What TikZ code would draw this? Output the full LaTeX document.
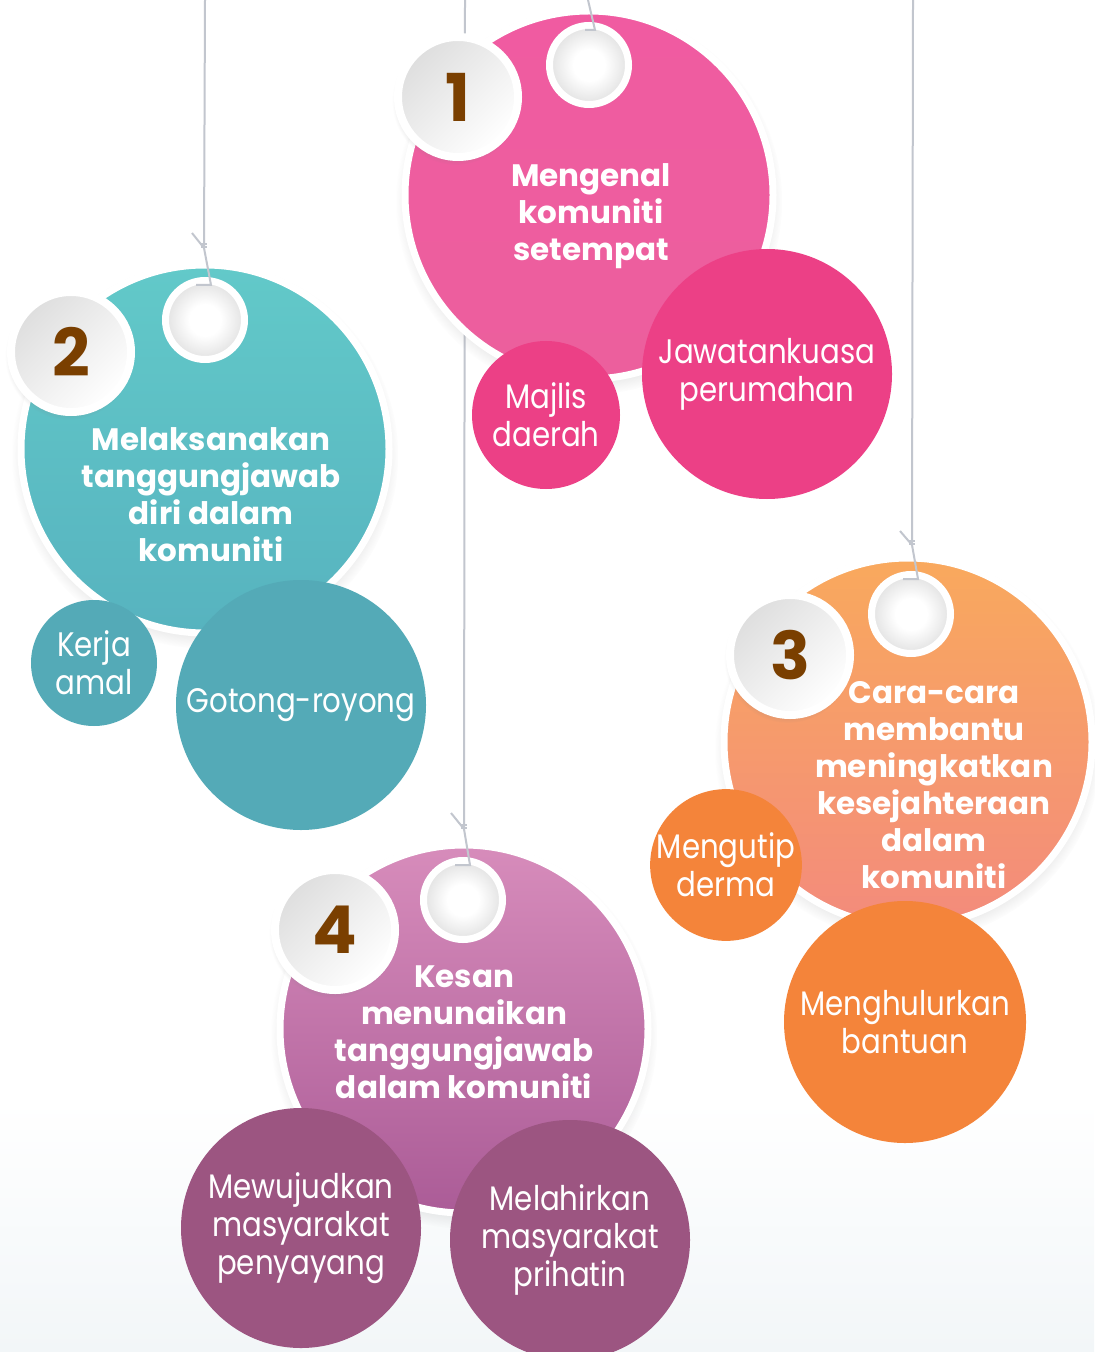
\documentclass[tikz,border=0pt]{standalone}
\usepackage{fontspec}
\setmainfont{Poppins}
\newfontfamily\sublight{Poppins}[FakeStretch=0.86]
\usetikzlibrary{positioning, calc, shadows, fadings}
\definecolor{pinktop}{HTML}{F05BA1}
\definecolor{pinkbot}{HTML}{EC5F9D}
\definecolor{pinksub}{HTML}{EC4086}
\definecolor{tealtop}{HTML}{62C9C9}
\definecolor{tealbot}{HTML}{57B3BF}
\definecolor{tealsub}{HTML}{54AAB7}
\definecolor{orangetop}{HTML}{F9A95D}
\definecolor{orangebot}{HTML}{F38B7C}
\definecolor{orangesub}{HTML}{F4843A}
\definecolor{purpletop}{HTML}{D78CBB}
\definecolor{purplebot}{HTML}{AB5C97}
\definecolor{purplesub}{HTML}{9C5581}
\definecolor{digitbrown}{HTML}{7A3F00}
\definecolor{stringgray}{HTML}{C2C6CE}
\definecolor{bgfade}{HTML}{F2F6F8}
\pgfdeclareradialshading{holeshade}{\pgfpoint{0bp}{0bp}}{color(0bp)=(white); color(10bp)=(white); color(44bp)=(black!26); color(50bp)=(black!28)}

\begin{document}
\begin{tikzpicture}[x=0.5pt, y=-0.5pt,
    bigball/.style 2 args={circle, draw=white, line width=3.5pt, inner sep=0pt,
        minimum size=184pt, top color=#1, bottom color=#2,
        circular drop shadow={shadow xshift=0pt, shadow yshift=-3pt, shadow scale=1.05, opacity=0.3}},
    subball/.style={circle, fill=#1, inner sep=0pt, text=white, align=center,
        font=\sublight\fontsize{17}{19}\selectfont},
    hole/.style={circle, draw=white, line width=3.5pt, inner sep=0pt,
        minimum size=39.5pt, shading=holeshade},
    numball/.style={circle, draw=white, line width=4pt, inner sep=0pt, minimum size=60pt,
        top color=black!13, bottom color=white, shading angle=45,
        circular drop shadow={shadow xshift=-1pt, shadow yshift=-2pt, shadow scale=1.06, opacity=0.25},
        text=digitbrown, font=\fontsize{33}{33}\selectfont\bfseries},
    title/.style={text=white, align=center, font=\fontsize{15.5}{18.5}\selectfont\bfseries},
    string/.style={draw=stringgray, line width=1pt}]
    \useasboundingbox (0,0) rectangle (1094,1352);
    \fill[white] (0,0) rectangle (1094,1352);
    \shade[top color=white, bottom color=bgfade] (0,1100) rectangle (1094,1352);

    % fili: parte alta, dietro ai cerchi
    \coordinate (top1) at (588,0);
    \coordinate (top2) at (205,0);
    \coordinate (top3) at (913,0);
    \coordinate (top4) at (465,0);
    \coordinate (knot2) at (204,248);
    \coordinate (knot3) at (912,545);
    \coordinate (knot4) at (464,829);
    \coordinate (loose2) at (192,233);
    \coordinate (loose3) at (900,531);
    \coordinate (loose4) at (451,813);
    \foreach \k in {2,3,4} {
        \draw[string] (top\k) -- (knot\k);
        \draw[string] (loose\k) -- (knot\k);
        \draw[string] ($(knot\k)+(-3,-4)$) -- ++(6,0);
        \draw[string] ($(knot\k)+(-3,-1)$) -- ++(6,0);
    }

    % 1
    \node[bigball={pinktop}{pinkbot}] (ball1) at (589,195) {};
    \node[subball=pinksub, minimum size=125pt] (jawatan) at (767,374) {Jawatankuasa\\perumahan};
    \node[subball=pinksub, minimum size=74pt] (majlis) at (546,415) {Majlis\\daerah};
    \node[hole] (hole1) at (589,65) {};
    \node[numball] (num1) at (458,97) {1};
    \node[title] (title1) at (591,216) {Mengenal\\komuniti\\setempat};
    \coordinate (hook1) at ($(hole1.center)+(6,-35)$);
    \coordinate (tail1) at ($(hole1.center)+(-4,-35)$);
    \draw[string] (top1) -- (hook1) -- (tail1);

    % 2
    \node[bigball={tealtop}{tealbot}] (ball2) at (205,449) {};
    \node[subball=tealsub, minimum size=63pt] (kerja) at (94,663) {Kerja\\amal};
    \node[subball=tealsub, minimum size=125pt] (gotong) at (301,705) {Gotong-royong};
    \node[hole] (hole2) at (205,320) {};
    \node[numball] (num2) at (71,352) {2};
    \node[title] (title2) at (211,495) {Melaksanakan\\tanggungjawab\\diri dalam\\komuniti};
    \coordinate (hook2) at ($(hole2.center)+(6,-35)$);
    \coordinate (tail2) at ($(hole2.center)+(-9,-35)$);
    \draw[string] (knot2) -- (hook2) -- (tail2);

    % 4
    \node[bigball={purpletop}{purplebot}] (ball4) at (464,1029) {};
    \node[subball=purplesub, minimum size=120pt] (mewujud) at (301,1228) {Mewujudkan\\masyarakat\\penyayang};
    \node[subball=purplesub, minimum size=120pt] (melahir) at (570,1240) {Melahirkan\\masyarakat\\prihatin};
    \node[hole] (hole4) at (463,900) {};
    \node[numball] (num4) at (335,930) {4};
    \node[title] (title4) at (464,1032) {Kesan\\menunaikan\\tanggungjawab\\dalam komuniti};
    \coordinate (hook4) at ($(hole4.center)+(7,-35)$);
    \coordinate (tail4) at ($(hole4.center)+(-8,-35)$);
    \draw[string] (knot4) -- (hook4) -- (tail4);

    % 3
    \node[bigball={orangetop}{orangebot}] (ball3) at (908,742) {};
    \node[subball=orangesub, minimum size=74pt] (mengutip) at (726,865) {Mengutip\\derma};
    \node[subball=orangesub, minimum size=121pt] (menghulur) at (905,1022) {Menghulurkan\\bantuan};
    \node[hole] (hole3) at (911,614) {};
    \node[numball] (num3) at (790,655) {3};
    \node[title] (title3) at (934,785) {Cara-cara\\membantu\\meningkatkan\\kesejahteraan\\dalam\\komuniti};
    \coordinate (hook3) at ($(hole3.center)+(7,-35)$);
    \coordinate (tail3) at ($(hole3.center)+(-8,-35)$);
    \draw[string] (knot3) -- (hook3) -- (tail3);
\end{tikzpicture}
\end{document}
